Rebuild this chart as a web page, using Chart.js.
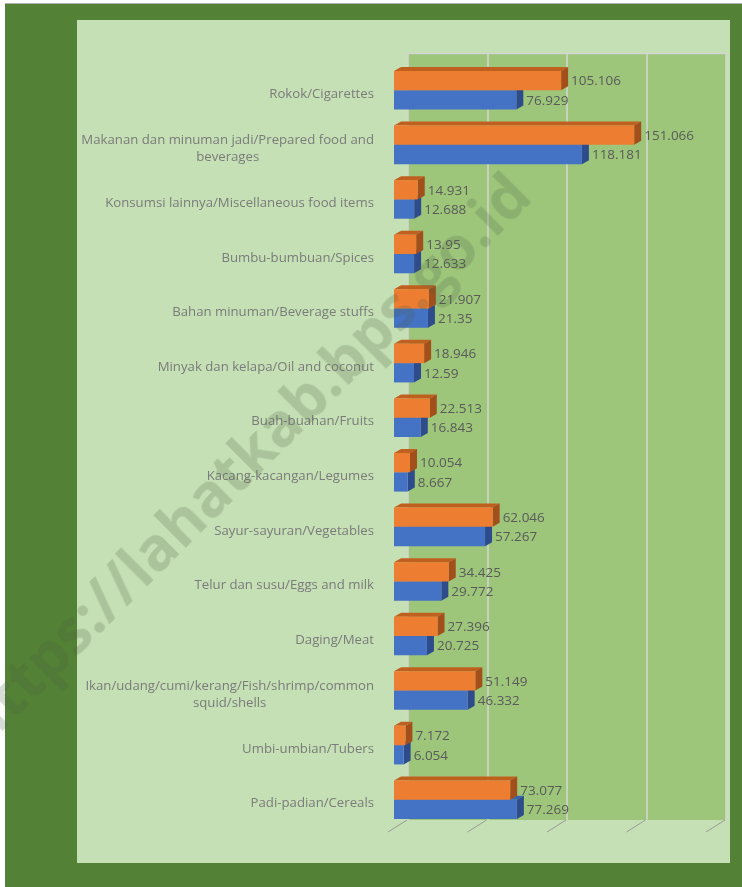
<!DOCTYPE html>
<html>
<head>
<meta charset="utf-8">
<script src="https://cdn.jsdelivr.net/npm/chart.js@4.4.1/dist/chart.umd.min.js"></script>
<style>
  html, body { margin: 0; padding: 0; background: #fff; }
  body { width: 742px; height: 887px; position: relative; overflow: hidden; }
  #frame { position: absolute; left: 5px; top: 3px; width: 737px; height: 884px; background: #538135; border-top: 1px solid #b0b0b0; }
  #panel { position: absolute; left: 77px; top: 20px; width: 653px; height: 843px; background: #c5e0b4; }
  #panel canvas { display: block; }
  #watermark {
    position: absolute; left: 243px; top: 458px;
    transform: translate(-50%, -50%) rotate(-45deg);
    white-space: nowrap; pointer-events: none;
    font: bold 60px "Open Sans", sans-serif;
    color: rgba(70, 90, 60, 0.21);
  }
</style>
</head>
<body>
<div id="frame"></div>
<div id="panel"><canvas id="chart" width="653" height="843"></canvas></div>
<div id="watermark">https://lahatkab.bps.go.id</div>
<script>
const categories = [
    'Rokok/Cigarettes',
    ['Makanan dan minuman jadi/Prepared food and', 'beverages'],
    'Konsumsi lainnya/Miscellaneous food items',
    'Bumbu-bumbuan/Spices',
    'Bahan minuman/Beverage stuffs',
    'Minyak dan kelapa/Oil and coconut',
    'Buah-buahan/Fruits',
    'Kacang-kacangan/Legumes',
    'Sayur-sayuran/Vegetables',
    'Telur dan susu/Eggs and milk',
    'Daging/Meat',
    ['Ikan/udang/cumi/kerang/Fish/shrimp/common', 'squid/shells'],
    'Umbi-umbian/Tubers',
    'Padi-padian/Cereals'
];
const orangeValues = [105.106, 151.066, 14.931, 13.95, 21.907, 18.946, 22.513, 10.054, 62.046, 34.425, 27.396, 51.149, 7.172, 73.077];
const blueValues = [76.929, 118.181, 12.688, 12.633, 21.35, 12.59, 16.843, 8.667, 57.267, 29.772, 20.725, 46.332, 6.054, 77.269];
const gridTicks = [0, 50, 100, 150, 200];

const DEPTH_X = 7, DEPTH_Y = 4;      // bar 3d depth
const WALL_X = 14, WALL_Y = 10;      // back wall offset
const sideColors = ['#a34f1b', '#2e4c8c'];
const topColors = ['#c0601f', '#3a63ae'];

const labelFont = '13.2px "Open Sans", sans-serif';
const valueFont = '13.5px "Open Sans", sans-serif';

const wallPlugin = {
    id: 'wall3d',
    beforeDatasetsDraw(chart) {
        const { ctx, chartArea: a, scales: { x } } = chart;
        ctx.save();
        // back wall
        ctx.fillStyle = '#9dc67b';
        ctx.fillRect(a.left + WALL_X, a.top - WALL_Y, a.right - a.left, a.bottom - a.top + 3);
        ctx.strokeStyle = '#d4d4d4';
        ctx.lineWidth = 1.5;
        ctx.beginPath();
        ctx.moveTo(a.left + WALL_X, a.top - WALL_Y + 0.5);
        ctx.lineTo(a.right + WALL_X, a.top - WALL_Y + 0.5);
        ctx.stroke();
        gridTicks.forEach(v => {
            const px = Math.round(x.getPixelForValue(v)) + WALL_X;
            ctx.beginPath();
            ctx.moveTo(px, a.top - WALL_Y);
            ctx.lineTo(px, a.bottom - 7);
            ctx.stroke();
        });
        // floor tick marks
        ctx.strokeStyle = '#9a9a9a';
        ctx.lineWidth = 1;
        gridTicks.forEach(v => {
            const px = x.getPixelForValue(v);
            ctx.beginPath();
            ctx.moveTo(px - 6, a.bottom + 5);
            ctx.lineTo(px + 13, a.bottom - 7);
            ctx.stroke();
        });
        // side + top faces of the bars, blue first so orange covers it
        [1, 0].forEach(di => {
            chart.getDatasetMeta(di).data.forEach(bar => {
                const top = bar.y - bar.height / 2;
                const bottom = bar.y + bar.height / 2;
                ctx.fillStyle = topColors[di];
                ctx.beginPath();
                ctx.moveTo(bar.base, top);
                ctx.lineTo(bar.base + DEPTH_X, top - DEPTH_Y);
                ctx.lineTo(bar.x + DEPTH_X, top - DEPTH_Y);
                ctx.lineTo(bar.x, top);
                ctx.closePath();
                ctx.fill();
                ctx.fillStyle = sideColors[di];
                ctx.beginPath();
                ctx.moveTo(bar.x, top);
                ctx.lineTo(bar.x + DEPTH_X, top - DEPTH_Y);
                ctx.lineTo(bar.x + DEPTH_X, bottom - DEPTH_Y);
                ctx.lineTo(bar.x, bottom);
                ctx.closePath();
                ctx.fill();
            });
        });
        ctx.restore();
    }
};

const labelPlugin = {
    id: 'labels',
    afterDatasetsDraw(chart) {
        const { ctx, chartArea: a, scales: { y } } = chart;
        ctx.save();
        ctx.font = labelFont;
        ctx.textBaseline = 'middle';
        // category labels, each block centred on its widest line, right edge fixed
        ctx.fillStyle = '#7b7b7b';
        ctx.textAlign = 'center';
        const rightEdge = a.left - 20;
        categories.forEach((cat, i) => {
            const lines = Array.isArray(cat) ? cat : [cat];
            const w = Math.max(...lines.map(l => ctx.measureText(l).width));
            const cy = y.getPixelForValue(i) + 4;
            const lh = 17;
            lines.forEach((l, k) => {
                ctx.fillText(l, rightEdge - w / 2, cy + (k - (lines.length - 1) / 2) * lh);
            });
        });
        // value labels
        ctx.font = valueFont;
        ctx.fillStyle = '#5a5a5a';
        ctx.textAlign = 'left';
        chart.data.datasets.forEach((ds, di) => {
            chart.getDatasetMeta(di).data.forEach((bar, i) => {
                ctx.fillText(String(ds.data[i]), bar.x + 10, bar.y + 1);
            });
        });
        ctx.restore();
    }
};

new Chart(document.getElementById('chart'), {
    type: 'bar',
    data: {
        labels: categories,
        datasets: [
            { label: 'Orange', data: orangeValues, backgroundColor: '#ed7d31' },
            { label: 'Blue', data: blueValues, backgroundColor: '#4472c4' }
        ]
    },
    options: {
        indexAxis: 'y',
        responsive: false,
        animation: false,
        categoryPercentage: 0.707,
        barPercentage: 1,
        layout: { padding: { left: 317, right: 18, top: 43, bottom: 36 } },
        plugins: { legend: { display: false }, tooltip: { enabled: false } },
        scales: {
            x: { min: 0, max: 200, display: false },
            y: { display: false }
        }
    },
    plugins: [wallPlugin, labelPlugin]
});
</script>
</body>
</html>
